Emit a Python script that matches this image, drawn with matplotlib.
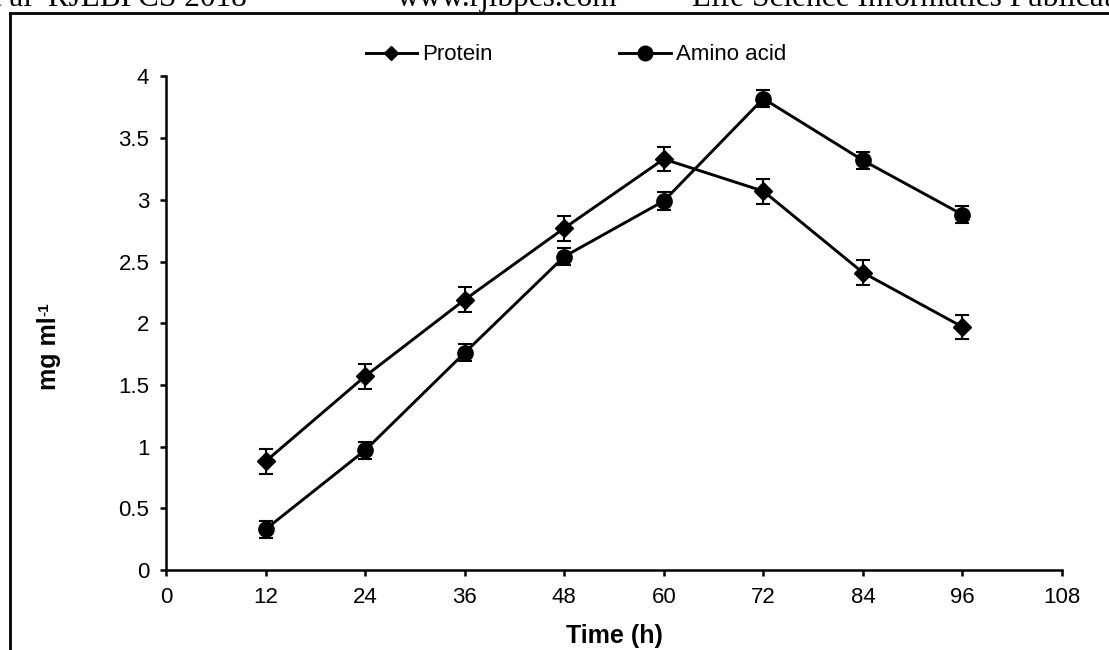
import matplotlib
matplotlib.use("Agg")
import matplotlib.pyplot as plt
from matplotlib.lines import Line2D

time_h = [12, 24, 36, 48, 60, 72, 84, 96]
protein = [0.88, 1.57, 2.19, 2.77, 3.33, 3.07, 2.41, 1.97]
protein_err = [0.10, 0.10, 0.10, 0.10, 0.10, 0.10, 0.10, 0.10]
amino = [0.33, 0.97, 1.76, 2.54, 2.99, 3.82, 3.32, 2.88]
amino_err = [0.07, 0.07, 0.07, 0.07, 0.07, 0.07, 0.07, 0.07]
x_ticks = [0, 12, 24, 36, 48, 60, 72, 84, 96, 108]
y_ticks = [0, 0.5, 1, 1.5, 2, 2.5, 3, 3.5, 4]

plt.rcParams['font.family'] = ['Liberation Sans', 'DejaVu Sans']

W, H = 1109, 650
fig = plt.figure(figsize=(W / 100, H / 100), dpi=100)
ax = fig.add_axes([166 / W, 1 - 570 / H, (1062 - 166) / W, (570 - 76.4) / H])

ax.errorbar(time_h, protein, yerr=protein_err, color='black', lw=2.1,
            marker='D', ms=9.3, capsize=5, capthick=1.5, elinewidth=1.5,
            label='Protein', zorder=3)
ax.errorbar(time_h, amino, yerr=amino_err, color='black', lw=2.1,
            marker='o', ms=11, capsize=5, capthick=1.5, elinewidth=1.5,
            label='Amino acid', zorder=3)

ax.set_xlim(0, 108)
ax.set_ylim(0, 4)
ax.set_xticks(x_ticks)
ax.set_xticklabels([str(v) for v in x_ticks])
ax.set_yticks(y_ticks)
ax.set_yticklabels([('%g' % v) for v in y_ticks])
ax.spines['top'].set_visible(False)
ax.spines['right'].set_visible(False)
for s in ('left', 'bottom'):
    ax.spines[s].set_linewidth(1.8)
ax.tick_params(direction='out', length=4, width=1.8, labelsize=16, pad=8)

fig.text(614 / W, 1 - 636 / H, 'Time (h)', fontsize=18, fontweight='bold',
         ha='center', va='center')
# y label "mg ml" with a small superscript "-1"
fig.text(56 / W, 1 - 390 / H, 'mg ml', fontsize=18, fontweight='bold',
         rotation=90, rotation_mode='anchor', ha='left', va='baseline')
fig.text(48 / W, 1 - 316 / H, '-1', fontsize=11, fontweight='bold',
         rotation=90, rotation_mode='anchor', ha='left', va='baseline')

handles = [Line2D([], [], color='black', lw=2.1, marker='D', ms=7),
           Line2D([], [], color='black', lw=2.1, marker='o', ms=10.5)]
fig.legend(handles, ['Protein', 'Amino acid'], loc='center',
           bbox_to_anchor=(576 / W, 1 - 55 / H), ncol=2, frameon=False,
           fontsize=16, handlelength=2.3, handletextpad=0.25, columnspacing=5.7,
           borderpad=0, borderaxespad=0)

# page header (partially cut off at the top edge) and frame
fig.text(247 / W, 1 - 6 / H, 'et al  RJLBPCS 2018', family='Liberation Serif',
         fontsize=22.5, va='baseline', ha='right')
fig.text(397 / W, 1 - 6 / H, 'www.rjlbpcs.com', family='Liberation Serif',
         fontsize=22.5, va='baseline', ha='left')
fig.text(692 / W, 1 - 6 / H, 'Life Science Informatics Publication',
         family='Liberation Serif', fontsize=22.5, va='baseline', ha='left')
fig.add_artist(Line2D([10 / W, 1.01], [1 - 13 / H, 1 - 13 / H], color='black', lw=2,
                      transform=fig.transFigure))
fig.add_artist(Line2D([10 / W, 10 / W], [1 - 13 / H, -0.01], color='black', lw=2,
                      transform=fig.transFigure))

fig.savefig('out.png', dpi=100)
